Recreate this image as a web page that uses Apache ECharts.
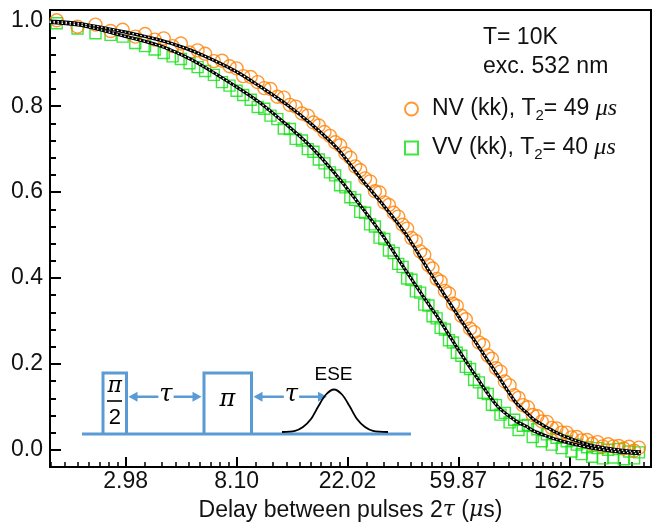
<!DOCTYPE html>
<html>
<head>
<meta charset="utf-8">
<script src="https://cdn.jsdelivr.net/npm/echarts@6/dist/echarts.min.js"></script>
<style>
html,body{margin:0;padding:0;background:#fff;}
#chart{width:654px;height:527px;}
</style>
</head>
<body>
<div id="chart"></div>
<script>
// ---- data ----
const tickLabels = ['2.98', '8.10', '22.02', '59.87', '162.75'];

const tau = [
  1.6, 1.93, 2.27, 2.6, 2.9, 3.25, 3.55, 3.87, 4.2, 4.55,
  4.9, 5.3, 5.7, 6.1, 6.6, 7.1, 7.6, 8.1, 8.6, 9.2,
  9.8, 10.4, 11, 11.7, 12.4, 13.1, 13.8, 14.6, 15.4, 16.2,
  17, 17.9, 18.8, 19.7, 20.6, 21.6, 22.6, 23.6, 24.7, 25.8,
  27, 28.2, 29.4, 30.7, 32, 33.4, 34.8, 36.2, 37.7, 39.2,
  40.8, 42.4, 44, 45.7, 47.4, 49.2, 51, 53, 55, 57,
  59, 61.5, 64, 66.5, 69, 72, 75, 78, 81, 84,
  87.5, 91, 95, 99, 103, 107, 112, 117, 122, 127,
  133, 139, 145, 152, 159, 166, 174, 182, 191, 200,
  210, 220, 231, 242, 254, 266, 279, 292, 305
];

const nvSignal = [
  1.000, 0.985, 0.990, 0.975, 0.978, 0.962, 0.968, 0.955, 0.958, 0.940,
  0.946, 0.925, 0.930, 0.922, 0.905, 0.906, 0.893, 0.888, 0.870, 0.868,
  0.856, 0.842, 0.840, 0.822, 0.820, 0.803, 0.799, 0.783, 0.778, 0.762,
  0.755, 0.740, 0.731, 0.716, 0.709, 0.690, 0.680, 0.660, 0.651, 0.632,
  0.625, 0.602, 0.599, 0.576, 0.570, 0.552, 0.543, 0.524, 0.515, 0.493,
  0.486, 0.462, 0.454, 0.430, 0.422, 0.398, 0.392, 0.370, 0.364, 0.340,
  0.335, 0.312, 0.304, 0.282, 0.274, 0.250, 0.244, 0.220, 0.212, 0.190,
  0.182, 0.159, 0.150, 0.127, 0.121, 0.104, 0.099, 0.081, 0.078, 0.066,
  0.065, 0.051, 0.050, 0.040, 0.040, 0.029, 0.030, 0.022, 0.023, 0.014,
  0.018, 0.008, 0.013, 0.008, 0.009, 0.003, 0.007, -0.002, 0.005
];

const vvSignal = [
  0.993, 0.981, 0.970, 0.966, 0.962, 0.947, 0.940, 0.932, 0.924, 0.916,
  0.910, 0.900, 0.891, 0.882, 0.873, 0.856, 0.848, 0.836, 0.826, 0.815,
  0.798, 0.794, 0.778, 0.770, 0.748, 0.747, 0.724, 0.720, 0.700, 0.694,
  0.676, 0.667, 0.646, 0.639, 0.616, 0.611, 0.588, 0.582, 0.554, 0.552,
  0.525, 0.520, 0.494, 0.491, 0.464, 0.458, 0.433, 0.426, 0.399, 0.396,
  0.369, 0.366, 0.338, 0.336, 0.311, 0.306, 0.284, 0.280, 0.255, 0.250,
  0.226, 0.219, 0.193, 0.188, 0.163, 0.157, 0.133, 0.130, 0.105, 0.104,
  0.082, 0.086, 0.064, 0.070, 0.046, 0.056, 0.058, 0.030, 0.048, 0.020,
  0.036, 0.012, 0.028, 0.004, 0.020, -0.004, 0.012, -0.010, 0.006, -0.016,
  0.004, -0.020, 0.000, -0.018, 0.002, -0.022, -0.004, -0.020, -0.006
];

const fitTau = [1.5, 2, 3, 4, 5, 6, 8, 10, 13, 16, 20, 25, 30, 37, 45, 50, 60, 70, 85, 100, 110, 120, 145, 170, 200, 240, 280, 310];
const nvFit = [0.998, 0.992, 0.972, 0.955, 0.937, 0.918, 0.882, 0.846, 0.800, 0.757, 0.703, 0.630, 0.574, 0.505, 0.425, 0.382, 0.310, 0.250, 0.175, 0.112, 0.088, 0.068, 0.040, 0.023, 0.010, 0.002, -0.003, -0.005];
const vvFit = [0.995, 0.988, 0.962, 0.942, 0.918, 0.893, 0.847, 0.808, 0.752, 0.703, 0.638, 0.565, 0.502, 0.420, 0.345, 0.306, 0.232, 0.172, 0.102, 0.068, 0.055, 0.042, 0.024, 0.013, 0.004, -0.003, -0.007, -0.009];

const seriesNames = ['NV (kk)', 'VV (kk)'];
const legendLabels = ['NV (kk), T{sub|2}= 49 {it|μs}', 'VV (kk), T{sub|2}= 40 {it|μs}'];
const noteText = 'T= 10K\nexc. 532 nm';

// ---- axis mapping: ticks of the natural-log axis sit at e^n of the scaled delay ----
const SCALE = Math.E / parseFloat(tickLabels[0]);
const xMinTau = 1.506, xMaxTau = 340;
const sx = t => t * SCALE;
const pairs = (xs, ys) => xs.map((x, i) => [sx(x), ys[i]]);

const ORANGE = '#ff8000';
const GREEN = '#10e010';
const BLUE = '#5b9bd5';
const FONT = 'Liberation Sans';

const chart = echarts.init(document.getElementById('chart'), null, {renderer: 'canvas'});

const inset = [];
inset.push({type:'line', shape:{x1:82, y1:434, x2:411, y2:434}, style:{stroke:BLUE, lineWidth:3}});
inset.push({type:'polyline', shape:{points:[[103,434],[103,373],[126.5,373],[126.5,434]]}, style:{stroke:BLUE, lineWidth:3, fill:null}});
inset.push({type:'polyline', shape:{points:[[204,434],[204,373],[251.5,373],[251.5,434]]}, style:{stroke:BLUE, lineWidth:3, fill:null}});
function arrow(x1, x2, y) {
  inset.push({type:'line', shape:{x1:x1+6, y1:y, x2:x2-6, y2:y}, style:{stroke:BLUE, lineWidth:2.5}});
  inset.push({type:'polygon', shape:{points:[[x1,y],[x1+9,y-5],[x1+9,y+5]]}, style:{fill:BLUE}});
  inset.push({type:'polygon', shape:{points:[[x2,y],[x2-9,y-5],[x2-9,y+5]]}, style:{fill:BLUE}});
}
arrow(128.5, 201.5, 396.7);
arrow(253.5, 327, 396.7);
const mathFont = 'italic 24px "DejaVu Serif"';
inset.push({type:'text', x:166, y:395, style:{text:'τ', font:mathFont, fill:'#000', align:'center', verticalAlign:'middle', backgroundColor:'#fff', padding:[0,1]}});
inset.push({type:'text', x:291.5, y:395, style:{text:'τ', font:mathFont, fill:'#000', align:'center', verticalAlign:'middle', backgroundColor:'#fff', padding:[0,1]}});
inset.push({type:'text', x:114.8, y:386, style:{text:'π', font:'italic 22px "DejaVu Serif"', fill:'#000', align:'center', verticalAlign:'middle'}});
inset.push({type:'line', shape:{x1:107, y1:401, x2:122, y2:401}, style:{stroke:'#000', lineWidth:1.6}});
inset.push({type:'text', x:114.8, y:418, style:{text:'2', font:'22px "Liberation Sans"', fill:'#000', align:'center', verticalAlign:'middle'}});
inset.push({type:'text', x:227.5, y:400, style:{text:'π', font:'italic 24px "DejaVu Serif"', fill:'#000', align:'center', verticalAlign:'middle'}});
inset.push({type:'polyline', shape:{smooth:0.3, points:[[282,432],[295,430.8],[303,427],[311,419],[318.5,406],[326,394.5],[334,389.5],[342,394.5],[349.5,406],[357,419],[365,427],[373,430.8],[388,432]]}, style:{stroke:'#000', lineWidth:1.8, fill:null}});
inset.push({type:'text', x:333.5, y:375, style:{text:'ESE', font:'19px "Liberation Sans"', fill:'#000', align:'center', verticalAlign:'middle'}});

const option = {
  animation: false,
  backgroundColor: '#fff',
  title: {
    text: noteText, left: 483, top: 23, padding: 0,
    textStyle: {fontFamily: FONT, fontSize: 23, fontWeight: 'normal', color: '#111', lineHeight: 29}
  },
  legend: {
    data: seriesNames,
    orient: 'vertical', left: 399, top: 92,
    itemWidth: 13, itemHeight: 13, itemGap: 13,
    formatter: name => legendLabels[seriesNames.indexOf(name)],
    textStyle: {
      fontFamily: FONT, fontSize: 23, color: '#111', padding: [0, 0, 0, 9],
      rich: {
        sub: {fontFamily: FONT, fontSize: 15, color: '#111', padding: [13, 0, 0, 0]},
        it: {fontFamily: 'Liberation Serif', fontStyle: 'italic', fontSize: 24, color: '#111'}
      }
    }
  },
  grid: {left: 50, top: 10, right: -12, bottom: 55.5, show: true, borderColor: '#000', borderWidth: 2},
  xAxis: {
    type: 'log', logBase: Math.E,
    min: sx(xMinTau), max: sx(xMaxTau),
    splitNumber: 5,
    axisLine: {show: true, onZero: false, lineStyle: {color: '#000', width: 2}},
    axisTick: {show: true, inside: true, length: 10, lineStyle: {color: '#000', width: 2}},
    minorTick: {show: true, splitNumber: 9, length: 5, lineStyle: {color: '#000', width: 1.5}},
    splitLine: {show: false},
    axisLabel: {
      margin: 3, fontFamily: FONT, fontSize: 23, color: '#111',
      showMinLabel: true, showMaxLabel: true,
      formatter: v => {
        const n = Math.log(v);
        const r = Math.round(n);
        if (Math.abs(n - r) > 1e-6) return '';
        return tickLabels[r - 1] || '';
      }
    },
    name: 'Delay between pulses 2{i|τ} ({i|μ}s)',
    nameLocation: 'middle', nameGap: 32,
    nameTextStyle: {
      fontFamily: FONT, fontSize: 23, color: '#111',
      rich: {i: {fontFamily: 'DejaVu Serif', fontStyle: 'italic', fontSize: 22, color: '#111'}}
    }
  },
  yAxis: {
    type: 'value', min: -0.04, max: 1.024, splitNumber: 5,
    axisLine: {show: true, onZero: false, lineStyle: {color: '#000', width: 2}},
    axisTick: {show: true, inside: true, length: 11, lineStyle: {color: '#000', width: 2}},
    minorTick: {show: true, splitNumber: 5, length: 6, lineStyle: {color: '#000', width: 2}},
    splitLine: {show: false},
    axisLabel: {
      margin: 7, fontFamily: FONT, fontSize: 23, color: '#111',
      formatter: v => {
        const k = Math.round(v / 0.2);
        if (Math.abs(v - k * 0.2) > 1e-6) return '';
        return (k * 0.2).toFixed(1);
      }
    }
  },
  series: [
    {
      name: seriesNames[1], type: 'scatter', data: pairs(tau, vvSignal),
      symbol: 'rect', symbolSize: 11,
      itemStyle: {color: 'rgba(255,255,255,0)', borderColor: GREEN, borderWidth: 1.4}
    },
    {
      name: seriesNames[0], type: 'scatter', data: pairs(tau, nvSignal),
      symbol: 'circle', symbolSize: 13,
      itemStyle: {color: 'rgba(255,255,255,0)', borderColor: ORANGE, borderWidth: 1.4}
    },
    {name: 'nvFit', type: 'line', data: pairs(fitTau, nvFit), smooth: 0.3, showSymbol: false, lineStyle: {color: '#000', width: 3.2}, z: 3},
    {name: 'nvFitDots', type: 'line', data: pairs(fitTau, nvFit), smooth: 0.3, showSymbol: false, lineStyle: {color: '#fff', width: 1.2, type: [1.5, 2.5]}, z: 4},
    {name: 'vvFit', type: 'line', data: pairs(fitTau, vvFit), smooth: 0.3, showSymbol: false, lineStyle: {color: '#000', width: 3.2}, z: 3},
    {name: 'vvFitDots', type: 'line', data: pairs(fitTau, vvFit), smooth: 0.3, showSymbol: false, lineStyle: {color: '#fff', width: 1.2, type: [1.5, 2.5]}, z: 4}
  ],
  graphic: {elements: inset.map(e => Object.assign({z: 100, silent: true}, e))}
};
chart.setOption(option);
</script>
</body>
</html>
